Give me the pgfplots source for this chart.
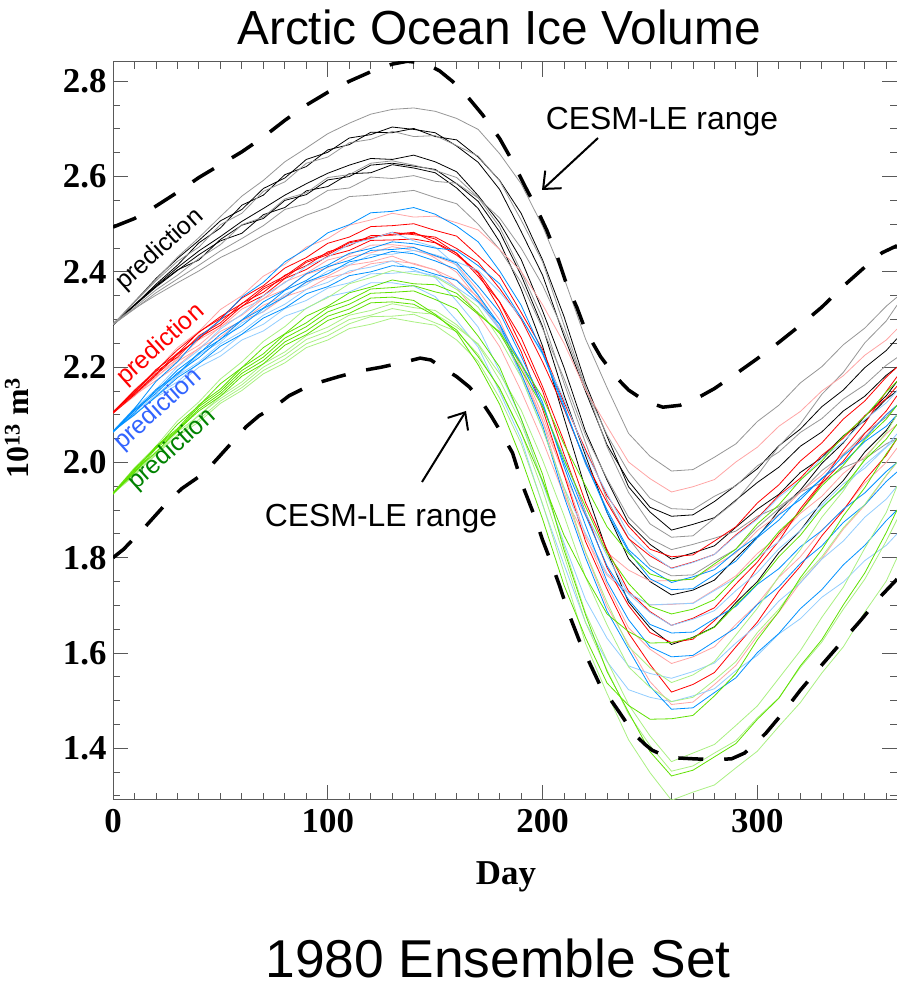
\documentclass[border=0pt]{standalone}
\usepackage{pgfplots}
\pgfplotsset{compat=1.18}
\usepackage{pgfplotstable}
\usepackage{fontspec}
\setmainfont{Liberation Serif}
\newfontfamily\arial{Liberation Sans}
\usetikzlibrary{arrows.meta}
\definecolor{kgray}{RGB}{150,150,150}
\definecolor{rred}{RGB}{255,0,0}
\definecolor{rpink}{RGB}{255,165,165}
\definecolor{bblue}{RGB}{0,145,255}
\definecolor{blight}{RGB}{145,205,255}
\definecolor{ggreen}{RGB}{95,225,0}
\definecolor{glight}{RGB}{170,240,130}
\definecolor{labblue}{RGB}{50,100,255}
\definecolor{labgreen}{RGB}{0,130,0}

\pgfplotstableread{
d c1 c2 c3 c4 c5 c6 c7 c8 c9 c10
0 2.290 2.288 2.291 2.289 2.290 2.292 2.288 2.290 2.291 2.289
10 2.338 2.337 2.330 2.336 2.331 2.325 2.329 2.322 2.330 2.323
20 2.384 2.386 2.374 2.381 2.371 2.362 2.368 2.356 2.370 2.351
30 2.431 2.428 2.414 2.422 2.409 2.393 2.403 2.385 2.404 2.377
40 2.472 2.466 2.461 2.452 2.444 2.428 2.436 2.414 2.425 2.402
50 2.516 2.507 2.492 2.499 2.474 2.457 2.465 2.444 2.468 2.430
60 2.559 2.531 2.540 2.523 2.506 2.499 2.481 2.470 2.498 2.452
70 2.592 2.575 2.561 2.569 2.533 2.515 2.520 2.497 2.512 2.477
80 2.631 2.597 2.604 2.589 2.561 2.553 2.535 2.531 2.550 2.498
90 2.660 2.636 2.621 2.628 2.585 2.566 2.570 2.543 2.562 2.519
100 2.690 2.651 2.656 2.641 2.607 2.598 2.579 2.571 2.593 2.535
110 2.712 2.681 2.667 2.671 2.624 2.604 2.606 2.576 2.600 2.558
120 2.731 2.688 2.693 2.678 2.638 2.628 2.608 2.599 2.624 2.561
130 2.741 2.704 2.692 2.695 2.636 2.633 2.625 2.596 2.628 2.566
140 2.744 2.699 2.701 2.684 2.645 2.624 2.618 2.602 2.622 2.571
150 2.737 2.692 2.684 2.686 2.631 2.613 2.608 2.590 2.615 2.556
160 2.722 2.664 2.677 2.665 2.610 2.598 2.576 2.586 2.585 2.543
170 2.699 2.630 2.641 2.643 2.560 2.556 2.533 2.555 2.548 2.500
180 2.648 2.573 2.592 2.591 2.503 2.494 2.463 2.513 2.484 2.447
190 2.585 2.485 2.523 2.509 2.426 2.401 2.364 2.450 2.393 2.378
200 2.496 2.393 2.425 2.421 2.318 2.302 2.244 2.372 2.285 2.281
210 2.387 2.265 2.306 2.288 2.199 2.166 2.093 2.274 2.141 2.176
220 2.259 2.149 2.166 2.158 2.065 2.041 1.944 2.156 2.014 2.057
230 2.157 2.037 2.055 2.033 1.963 1.922 1.813 2.058 1.895 1.966
240 2.061 1.961 1.949 1.937 1.873 1.841 1.707 1.980 1.798 1.885
250 2.013 1.906 1.896 1.871 1.828 1.783 1.653 1.925 1.750 1.840
260 1.982 1.887 1.858 1.843 1.797 1.762 1.618 1.903 1.722 1.817
270 1.985 1.890 1.870 1.846 1.810 1.764 1.633 1.901 1.732 1.828
280 2.011 1.918 1.884 1.883 1.825 1.792 1.655 1.929 1.753 1.841
290 2.039 1.952 1.921 1.919 1.864 1.818 1.706 1.951 1.800 1.856
300 2.086 1.987 1.958 1.973 1.902 1.864 1.750 1.993 1.843 1.887
310 2.120 2.035 1.990 2.034 1.933 1.903 1.811 2.022 1.899 1.907
320 2.167 2.070 2.034 2.081 1.979 1.937 1.857 2.063 1.942 1.938
330 2.201 2.117 2.064 2.143 2.010 1.983 1.917 2.092 1.998 1.957
340 2.247 2.152 2.108 2.189 2.056 2.016 1.962 2.133 2.041 1.989
350 2.282 2.199 2.139 2.251 2.087 2.062 2.022 2.163 2.097 2.008
360 2.328 2.235 2.183 2.297 2.133 2.095 2.067 2.204 2.140 2.039
365 2.347 2.260 2.200 2.330 2.150 2.120 2.100 2.220 2.170 2.050
}\tabK

\pgfplotstableread{
d c1 c2 c3 c4 c5 c6 c7 c8 c9 c10
0 2.105 2.104 2.106 2.105 2.103 2.106 2.105 2.104 2.106 2.105
10 2.147 2.153 2.144 2.146 2.142 2.145 2.148 2.139 2.151 2.141
20 2.195 2.192 2.186 2.187 2.183 2.178 2.191 2.180 2.193 2.172
30 2.228 2.241 2.229 2.215 2.226 2.219 2.221 2.212 2.236 2.203
40 2.274 2.275 2.259 2.258 2.262 2.246 2.266 2.239 2.273 2.240
50 2.302 2.321 2.300 2.283 2.288 2.285 2.293 2.275 2.306 2.263
60 2.345 2.350 2.327 2.322 2.328 2.309 2.334 2.297 2.333 2.298
70 2.371 2.391 2.364 2.343 2.350 2.344 2.357 2.330 2.368 2.316
80 2.408 2.416 2.387 2.379 2.386 2.363 2.393 2.349 2.391 2.348
90 2.430 2.452 2.420 2.397 2.405 2.395 2.413 2.378 2.423 2.363
100 2.460 2.470 2.436 2.425 2.433 2.409 2.442 2.391 2.439 2.388
110 2.473 2.498 2.461 2.436 2.445 2.432 2.455 2.414 2.463 2.398
120 2.495 2.509 2.470 2.456 2.466 2.440 2.476 2.421 2.472 2.417
130 2.497 2.523 2.483 2.457 2.467 2.453 2.477 2.433 2.479 2.423
140 2.501 2.515 2.478 2.452 2.469 2.445 2.481 2.416 2.483 2.418
150 2.487 2.517 2.473 2.429 2.461 2.433 2.469 2.404 2.462 2.404
160 2.475 2.503 2.449 2.399 2.435 2.415 2.439 2.367 2.439 2.383
170 2.434 2.488 2.420 2.343 2.400 2.361 2.397 2.310 2.391 2.347
180 2.391 2.447 2.365 2.278 2.337 2.299 2.323 2.243 2.337 2.283
190 2.315 2.401 2.301 2.187 2.262 2.197 2.233 2.150 2.246 2.205
200 2.237 2.331 2.211 2.087 2.159 2.088 2.112 2.046 2.150 2.098
210 2.126 2.250 2.112 1.974 2.044 1.938 1.974 1.931 2.017 1.978
220 2.027 2.152 2.001 1.888 1.916 1.810 1.834 1.842 1.895 1.846
230 1.930 2.076 1.916 1.811 1.817 1.698 1.734 1.763 1.779 1.743
240 1.866 2.001 1.840 1.774 1.730 1.618 1.642 1.725 1.700 1.653
250 1.818 1.966 1.804 1.751 1.687 1.540 1.576 1.701 1.643 1.608
260 1.802 1.938 1.778 1.752 1.658 1.492 1.518 1.702 1.622 1.578
270 1.806 1.949 1.791 1.755 1.673 1.497 1.534 1.705 1.629 1.592
280 1.835 1.964 1.807 1.783 1.695 1.534 1.559 1.733 1.668 1.613
290 1.865 2.001 1.848 1.810 1.745 1.574 1.613 1.762 1.712 1.660
300 1.915 2.032 1.883 1.857 1.791 1.636 1.665 1.809 1.780 1.703
310 1.953 2.076 1.931 1.891 1.850 1.686 1.730 1.845 1.835 1.759
320 2.003 2.107 1.967 1.938 1.897 1.748 1.782 1.893 1.903 1.802
330 2.041 2.150 2.015 1.973 1.956 1.798 1.846 1.929 1.959 1.858
340 2.091 2.182 2.051 2.019 2.003 1.860 1.899 1.977 2.026 1.901
350 2.129 2.225 2.098 2.054 2.061 1.910 1.963 2.012 2.082 1.957
360 2.179 2.257 2.134 2.101 2.108 1.972 2.015 2.060 2.149 2.000
365 2.200 2.280 2.160 2.120 2.140 2.000 2.050 2.080 2.180 2.030
}\tabR

\pgfplotstableread{
d c1 c2 c3 c4 c5 c6 c7 c8 c9 c10
0 2.065 2.066 2.064 2.065 2.063 2.066 2.065 2.064 2.066 2.065
10 2.113 2.114 2.104 2.107 2.109 2.099 2.111 2.102 2.100 2.108
20 2.170 2.153 2.153 2.140 2.145 2.142 2.149 2.137 2.138 2.151
30 2.211 2.201 2.185 2.182 2.188 2.169 2.194 2.163 2.178 2.182
40 2.263 2.236 2.230 2.211 2.220 2.209 2.228 2.200 2.207 2.226
50 2.299 2.280 2.258 2.249 2.259 2.233 2.269 2.223 2.244 2.253
60 2.347 2.311 2.299 2.275 2.287 2.269 2.299 2.257 2.269 2.293
70 2.378 2.350 2.324 2.309 2.323 2.290 2.337 2.276 2.303 2.317
80 2.421 2.377 2.361 2.332 2.347 2.323 2.362 2.307 2.324 2.353
90 2.448 2.412 2.382 2.363 2.379 2.340 2.396 2.323 2.354 2.373
100 2.482 2.431 2.411 2.378 2.396 2.366 2.414 2.348 2.369 2.402
110 2.499 2.458 2.424 2.402 2.421 2.377 2.439 2.358 2.392 2.415
120 2.524 2.469 2.445 2.410 2.430 2.396 2.449 2.377 2.400 2.436
130 2.527 2.483 2.447 2.423 2.443 2.397 2.463 2.377 2.413 2.437
140 2.535 2.465 2.451 2.404 2.438 2.401 2.459 2.370 2.409 2.445
150 2.521 2.452 2.434 2.388 2.423 2.392 2.450 2.348 2.395 2.436
160 2.496 2.413 2.419 2.339 2.405 2.367 2.445 2.298 2.382 2.421
170 2.463 2.352 2.370 2.284 2.351 2.336 2.413 2.242 2.338 2.403
180 2.402 2.280 2.315 2.191 2.289 2.279 2.375 2.148 2.290 2.358
190 2.330 2.181 2.223 2.092 2.187 2.211 2.304 2.049 2.207 2.304
200 2.231 2.070 2.126 1.956 2.078 2.116 2.229 1.911 2.120 2.226
210 2.120 1.947 1.991 1.831 1.928 2.011 2.114 1.785 1.999 2.133
220 1.997 1.851 1.868 1.712 1.800 1.894 2.003 1.664 1.889 2.021
230 1.901 1.767 1.750 1.631 1.688 1.804 1.895 1.582 1.783 1.935
240 1.817 1.726 1.670 1.573 1.608 1.724 1.813 1.523 1.712 1.850
250 1.776 1.701 1.613 1.557 1.530 1.685 1.756 1.507 1.660 1.809
260 1.748 1.703 1.592 1.547 1.482 1.658 1.733 1.498 1.642 1.777
270 1.760 1.704 1.595 1.561 1.485 1.671 1.735 1.510 1.644 1.790
280 1.775 1.731 1.624 1.579 1.517 1.689 1.764 1.525 1.672 1.807
290 1.813 1.757 1.653 1.621 1.548 1.731 1.793 1.563 1.698 1.846
300 1.845 1.801 1.702 1.659 1.601 1.769 1.842 1.595 1.744 1.881
310 1.890 1.834 1.739 1.709 1.641 1.819 1.879 1.640 1.777 1.927
320 1.922 1.878 1.788 1.747 1.693 1.857 1.928 1.672 1.823 1.962
330 1.967 1.911 1.825 1.797 1.733 1.907 1.965 1.717 1.857 2.009
340 1.999 1.955 1.874 1.835 1.785 1.945 2.014 1.749 1.902 2.043
350 2.044 1.988 1.911 1.885 1.826 1.995 2.051 1.794 1.936 2.090
360 2.076 2.032 1.960 1.923 1.878 2.033 2.100 1.826 1.981 2.125
365 2.100 2.050 1.980 1.950 1.900 2.060 2.120 1.850 2.000 2.150
}\tabB

\pgfplotstableread{
d c1 c2 c3 c4 c5 c6 c7 c8 c9 c10
0 1.935 1.936 1.934 1.935 1.933 1.936 1.935 1.934 1.936 1.935
10 1.980 1.989 1.978 1.981 1.985 1.972 1.983 1.974 1.987 1.979
20 2.034 2.034 2.029 2.019 2.032 2.018 2.021 2.023 2.030 2.015
30 2.071 2.087 2.065 2.064 2.068 2.055 2.068 2.055 2.080 2.058
40 2.121 2.127 2.112 2.098 2.117 2.085 2.108 2.100 2.119 2.090
50 2.154 2.175 2.144 2.139 2.149 2.124 2.139 2.134 2.165 2.129
60 2.199 2.211 2.187 2.169 2.193 2.151 2.181 2.163 2.199 2.157
70 2.228 2.254 2.214 2.207 2.221 2.186 2.207 2.200 2.241 2.193
80 2.269 2.285 2.253 2.232 2.261 2.209 2.246 2.225 2.270 2.217
90 2.293 2.324 2.276 2.266 2.285 2.241 2.268 2.258 2.307 2.249
100 2.325 2.346 2.307 2.284 2.316 2.257 2.298 2.275 2.328 2.266
110 2.341 2.375 2.322 2.309 2.332 2.281 2.313 2.300 2.356 2.291
120 2.364 2.388 2.345 2.319 2.355 2.290 2.335 2.309 2.368 2.306
130 2.367 2.403 2.347 2.333 2.357 2.303 2.337 2.323 2.383 2.307
140 2.371 2.395 2.340 2.325 2.360 2.295 2.332 2.315 2.375 2.311
150 2.358 2.390 2.311 2.319 2.342 2.288 2.308 2.311 2.373 2.293
160 2.348 2.363 2.273 2.289 2.322 2.257 2.278 2.284 2.355 2.275
170 2.311 2.326 2.205 2.247 2.265 2.212 2.222 2.249 2.314 2.227
180 2.274 2.259 2.122 2.173 2.200 2.135 2.156 2.186 2.271 2.153
190 2.206 2.179 2.009 2.083 2.092 2.040 2.063 2.110 2.195 2.063
200 2.137 2.070 1.881 1.962 1.975 1.913 1.961 2.005 2.117 1.942
210 2.038 1.947 1.742 1.824 1.816 1.768 1.847 1.888 2.006 1.804
220 1.951 1.812 1.632 1.684 1.680 1.620 1.760 1.759 1.907 1.664
230 1.865 1.706 1.537 1.584 1.561 1.515 1.682 1.659 1.810 1.564
240 1.809 1.614 1.490 1.492 1.476 1.418 1.645 1.571 1.746 1.472
250 1.766 1.569 1.461 1.426 1.393 1.349 1.621 1.528 1.698 1.406
260 1.752 1.538 1.462 1.372 1.342 1.291 1.622 1.498 1.682 1.352
270 1.755 1.554 1.469 1.390 1.354 1.308 1.632 1.507 1.692 1.363
280 1.787 1.582 1.510 1.408 1.382 1.323 1.654 1.543 1.712 1.390
290 1.818 1.638 1.557 1.448 1.410 1.359 1.701 1.582 1.758 1.416
300 1.871 1.694 1.628 1.489 1.461 1.394 1.746 1.643 1.800 1.464
310 1.911 1.761 1.687 1.547 1.505 1.446 1.802 1.692 1.855 1.506
320 1.963 1.817 1.758 1.605 1.573 1.496 1.847 1.753 1.897 1.570
330 2.003 1.885 1.817 1.675 1.628 1.558 1.904 1.802 1.951 1.623
340 2.055 1.940 1.888 1.738 1.701 1.613 1.948 1.863 1.994 1.692
350 2.096 2.008 1.947 1.820 1.768 1.686 2.005 1.912 2.048 1.755
360 2.148 2.063 2.018 1.895 1.853 1.751 2.049 1.973 2.091 1.835
365 2.170 2.100 2.050 1.950 1.900 1.800 2.080 2.000 2.120 1.880
}\tabG

\pgfplotstableread{
d v
0 2.494
10 2.512
20 2.538
30 2.567
40 2.598
50 2.625
60 2.652
70 2.683
80 2.718
90 2.750
100 2.777
110 2.800
120 2.820
130 2.836
137 2.842
145 2.838
152 2.822
158 2.800
165 2.768
172 2.730
180 2.680
186 2.632
192 2.578
197 2.535
202 2.487
207 2.430
211 2.376
216 2.325
220 2.277
227 2.222
234 2.180
240 2.152
248 2.128
256 2.116
264 2.120
272 2.135
280 2.155
290 2.186
300 2.218
310 2.252
320 2.288
330 2.326
340 2.370
350 2.410
358 2.440
365 2.455
}\tabUp

\pgfplotstableread{
d v
0 1.800
5 1.818
9 1.837
15 1.865
20 1.890
25 1.915
32 1.945
40 1.970
45 1.990
50 2.015
56 2.045
62 2.075
68 2.098
75 2.116
82 2.140
90 2.158
96 2.168
105 2.180
115 2.192
125 2.200
135 2.210
143 2.219
148 2.215
153 2.200
160 2.180
166 2.158
172 2.125
176 2.098
180 2.068
186 2.020
191 1.948
196 1.890
200 1.837
204 1.790
208 1.740
212 1.685
217 1.627
222 1.578
227 1.530
232 1.500
236 1.474
240 1.447
244 1.424
248 1.407
251 1.396
256 1.386
262 1.380
270 1.378
280 1.376
288 1.378
294 1.390
299 1.410
304 1.432
312 1.475
320 1.522
330 1.575
340 1.627
348 1.668
357 1.717
365 1.755
}\tabLo

\newcommand{\tickfont}{\bfseries\fontsize{35}{35}\selectfont}

\begin{document}
\begin{tikzpicture}
\begin{axis}[
  at={(113bp,183bp)}, anchor=south west, scale only axis,
  width=784bp, height=738bp,
  xmin=0, xmax=365, ymin=1.2915, ymax=2.8405,
  xtick={0,100,200,300},
  ytick={1.4,1.6,1.8,2.0,2.2,2.4,2.6,2.8},
  minor xtick={10,20,30,40,50,60,70,80,90,110,120,130,140,150,160,170,180,190,210,220,230,240,250,260,270,280,290,310,320,330,340,350,360},
  minor ytick={1.3,1.35,1.45,1.5,1.55,1.65,1.7,1.75,1.85,1.9,1.95,2.05,2.1,2.15,2.25,2.3,2.35,2.45,2.5,2.55,2.65,2.7,2.75},
  xtick pos=both, ytick pos=both,
  xticklabel pos=bottom, yticklabel pos=left,
  tick align=inside,
  major tick length=15bp, minor tick length=7bp,
  axis line style={black!65, line width=1bp},
  every tick/.style={black!65, line width=0.9bp},
  /pgf/number format/assume math mode=true,
  ticklabel style={font=\tickfont},
  yticklabel style={xshift=-3bp, /pgf/number format/.cd, fixed, fixed zerofill, precision=1},
  xticklabel style={yshift=-6bp},
  clip=true,
]
\pgfplotsinvokeforeach{2,3,5,7,9}{\addplot[black, line width=0.8bp] table[x=d,y=c#1]{\tabK};}
\pgfplotsinvokeforeach{1,4,6,8,10}{\addplot[kgray, line width=0.8bp] table[x=d,y=c#1]{\tabK};}
\pgfplotsinvokeforeach{2,4,6,8,10}{\addplot[rpink, line width=0.8bp] table[x=d,y=c#1]{\tabR};}
\pgfplotsinvokeforeach{1,3,5,7,9}{\addplot[rred, line width=0.8bp] table[x=d,y=c#1]{\tabR};}
\pgfplotsinvokeforeach{2,4,6,8,10}{\addplot[blight, line width=0.8bp] table[x=d,y=c#1]{\tabB};}
\pgfplotsinvokeforeach{1,3,5,7,9}{\addplot[bblue, line width=0.8bp] table[x=d,y=c#1]{\tabB};}
\pgfplotsinvokeforeach{2,4,6,8,10}{\addplot[glight, line width=0.8bp] table[x=d,y=c#1]{\tabG};}
\pgfplotsinvokeforeach{1,3,5,7,9}{\addplot[ggreen, line width=0.8bp] table[x=d,y=c#1]{\tabG};}
\addplot[black, line width=3.5bp, dash pattern=on 25bp off 21bp] table[x=d,y=v]{\tabUp};
\addplot[black, line width=3.5bp, dash pattern=on 25bp off 21bp] table[x=d,y=v]{\tabLo};
\end{axis}
\node[font=\arial\fontsize{48}{48}\selectfont, anchor=base] at (499bp,938bp) {Arctic Ocean Ice Volume};
\node[font=\arial\fontsize{53.5}{53.5}\selectfont, anchor=base] at (498bp,6bp) {1980 Ensemble Set};
\node[font=\bfseries\fontsize{35}{35}\selectfont, anchor=base] at (506bp,98bp) {Day};
\node[font=\bfseries\fontsize{32}{32}\selectfont, rotate=90] at (17bp,555bp) {10\textsuperscript{13} m\textsuperscript{3}};
\node[font=\arial\fontsize{32}{32}\selectfont, anchor=base] at (662bp,853bp) {CESM-LE range};
\node[font=\arial\fontsize{32}{32}\selectfont, anchor=base] at (381bp,456bp) {CESM-LE range};
\draw[line width=2bp, -{Straight Barb[length=14bp,width=24bp]}] (598bp,845bp) -- (542bp,793bp);
\draw[line width=2bp, -{Straight Barb[length=14bp,width=24bp]}] (422bp,501bp) -- (466bp,572bp);
\node[font=\arial\fontsize{25}{25}\selectfont, rotate=42, text=black] at (160bp,733bp) {prediction};
\node[font=\arial\fontsize{25}{25}\selectfont, rotate=42, text=rred] at (161bp,638bp) {prediction};
\node[font=\arial\fontsize{25}{25}\selectfont, rotate=42, text=labblue] at (158bp,573bp) {prediction};
\node[font=\arial\fontsize{25}{25}\selectfont, rotate=42, text=labgreen] at (172bp,533bp) {prediction};
\pgfresetboundingbox
\path[use as bounding box] (0,0) rectangle (897bp,983bp);
\end{tikzpicture}
\end{document}
